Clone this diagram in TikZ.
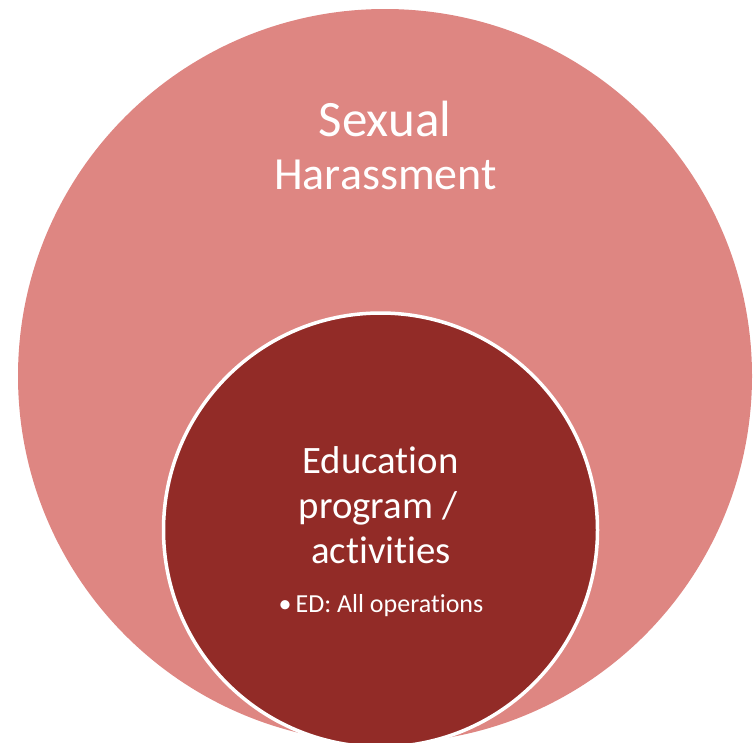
\documentclass[tikz,border=0pt]{standalone}
\usepackage{fontspec}
\setmainfont{Carlito}[Ligatures=NoCommon]
\definecolor{outerc}{HTML}{DE8682}
\definecolor{innerc}{HTML}{922B27}
\begin{document}
\begin{tikzpicture}[x=1pt,y=-1pt,
  lbl/.style={text=white,anchor=base,inner sep=0pt}]
\useasboundingbox (0,0) rectangle (754,742);
\begin{scope}
\clip (0,0) rectangle (754,742);
\fill[outerc] (385,376) circle[radius=367];
\filldraw[fill=innerc,draw=white,line width=3.5pt] (380.5,530) circle[radius=217];
\end{scope}
\node[lbl,font=\fontsize{51}{60}\selectfont] (t1) at (385,136) {Sexual};
\node[lbl,font=\fontsize{46}{54}\selectfont] (t2) at (385.5,189) {Harassment};
\node[lbl,font=\fontsize{38.8}{46}\selectfont] (i1) at (380.5,473) {Education};
\node[lbl,font=\fontsize{38.8}{46}\selectfont] (i2) at (378,518) {program /};
\node[lbl,font=\fontsize{38.8}{46}\selectfont] (i3) at (381,563) {activities};
\node[lbl,font=\fontsize{26}{30}\selectfont] (b1) at (381,612) {\textbullet\hspace{4pt}ED: All operations};
\end{tikzpicture}
\end{document}
